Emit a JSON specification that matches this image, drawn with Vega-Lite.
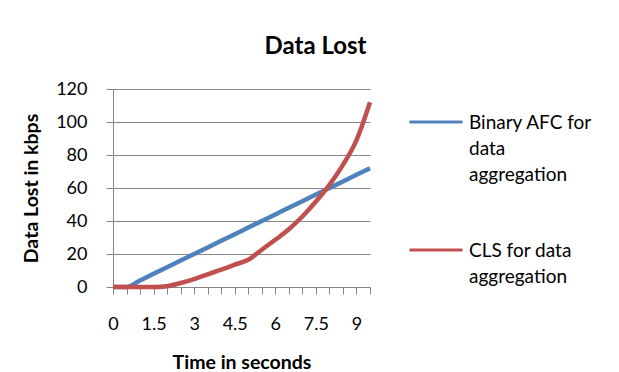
{
  "$schema": "https://vega.github.io/schema/vega-lite/v6.json",
  "width": 257,
  "height": 198,
  "autosize": {"type": "none"},
  "padding": {"left": 113, "top": 89, "right": 249, "bottom": 85},
  "background": "white",
  "title": {
    "text": "Data Lost",
    "font": "Lato",
    "fontSize": 24,
    "fontWeight": "bold",
    "color": "black",
    "anchor": "middle",
    "dx": 74,
    "offset": 21
  },
  "data": {
    "values": [
      {"t": 0, "series": "Binary AFC for data aggregation", "v": 0},
      {"t": 0.5, "series": "Binary AFC for data aggregation", "v": 0},
      {"t": 1, "series": "Binary AFC for data aggregation", "v": 4},
      {"t": 1.5, "series": "Binary AFC for data aggregation", "v": 8},
      {"t": 2, "series": "Binary AFC for data aggregation", "v": 12},
      {"t": 2.5, "series": "Binary AFC for data aggregation", "v": 16},
      {"t": 3, "series": "Binary AFC for data aggregation", "v": 20},
      {"t": 3.5, "series": "Binary AFC for data aggregation", "v": 24},
      {"t": 4, "series": "Binary AFC for data aggregation", "v": 28},
      {"t": 4.5, "series": "Binary AFC for data aggregation", "v": 32},
      {"t": 5, "series": "Binary AFC for data aggregation", "v": 36},
      {"t": 5.5, "series": "Binary AFC for data aggregation", "v": 40},
      {"t": 6, "series": "Binary AFC for data aggregation", "v": 44},
      {"t": 6.5, "series": "Binary AFC for data aggregation", "v": 48},
      {"t": 7, "series": "Binary AFC for data aggregation", "v": 52},
      {"t": 7.5, "series": "Binary AFC for data aggregation", "v": 56},
      {"t": 8, "series": "Binary AFC for data aggregation", "v": 60},
      {"t": 8.5, "series": "Binary AFC for data aggregation", "v": 64},
      {"t": 9, "series": "Binary AFC for data aggregation", "v": 68},
      {"t": 9.5, "series": "Binary AFC for data aggregation", "v": 72},
      {"t": 0, "series": "CLS for data aggregation", "v": 0},
      {"t": 0.5, "series": "CLS for data aggregation", "v": 0},
      {"t": 1, "series": "CLS for data aggregation", "v": 0},
      {"t": 1.5, "series": "CLS for data aggregation", "v": 0},
      {"t": 2, "series": "CLS for data aggregation", "v": 0.5},
      {"t": 2.5, "series": "CLS for data aggregation", "v": 2.4},
      {"t": 3, "series": "CLS for data aggregation", "v": 4.8},
      {"t": 3.5, "series": "CLS for data aggregation", "v": 7.7},
      {"t": 4, "series": "CLS for data aggregation", "v": 10.5},
      {"t": 4.5, "series": "CLS for data aggregation", "v": 13.5},
      {"t": 5, "series": "CLS for data aggregation", "v": 16.5},
      {"t": 5.5, "series": "CLS for data aggregation", "v": 22.6},
      {"t": 6, "series": "CLS for data aggregation", "v": 28.6},
      {"t": 6.5, "series": "CLS for data aggregation", "v": 35},
      {"t": 7, "series": "CLS for data aggregation", "v": 42.7},
      {"t": 7.5, "series": "CLS for data aggregation", "v": 51.8},
      {"t": 8, "series": "CLS for data aggregation", "v": 61.9},
      {"t": 8.5, "series": "CLS for data aggregation", "v": 74},
      {"t": 9, "series": "CLS for data aggregation", "v": 89},
      {"t": 9.5, "series": "CLS for data aggregation", "v": 112}
    ]
  },
  "mark": {"type": "line", "strokeWidth": 4.5, "interpolate": "monotone"},
  "encoding": {
    "x": {
      "field": "t",
      "type": "quantitative",
      "scale": {"domain": [0, 9.5], "nice": false, "zero": false},
      "axis": {
        "values": [0, 0.5, 1, 1.5, 2, 2.5, 3, 3.5, 4, 4.5, 5, 5.5, 6, 6.5, 7, 7.5, 8, 8.5, 9, 9.5],
        "labelExpr": "datum.value % 1.5 == 0 ? '' + datum.value : ''",
        "labelOverlap": false,
        "labelFlush": false,
        "grid": false,
        "tickSize": 7,
        "tickColor": "#868686",
        "domainColor": "#868686",
        "labelFont": "Lato",
        "labelFontSize": 18,
        "labelColor": "black",
        "labelPadding": 21,
        "title": "Time in seconds",
        "titleFont": "Lato",
        "titleFontSize": 19.5,
        "titleFontWeight": "bold",
        "titleColor": "black",
        "titlePadding": 20
      }
    },
    "y": {
      "field": "v",
      "type": "quantitative",
      "scale": {"domain": [0, 120], "nice": false},
      "axis": {
        "values": [0, 20, 40, 60, 80, 100, 120],
        "grid": true,
        "gridColor": "#868686",
        "gridWidth": 1,
        "tickSize": 7,
        "tickColor": "#868686",
        "domainColor": "#868686",
        "labelFont": "Lato",
        "labelFontSize": 18,
        "labelColor": "black",
        "labelPadding": 19,
        "title": "Data Lost in kbps",
        "titleFont": "Lato",
        "titleFontSize": 19.5,
        "titleFontWeight": "bold",
        "titleColor": "black",
        "titlePadding": 14
      }
    },
    "color": {
      "field": "series",
      "type": "nominal",
      "scale": {
        "domain": ["Binary AFC for data aggregation", "CLS for data aggregation"],
        "range": ["#4F81BD", "#C0504D"]
      },
      "legend": {
        "title": null,
        "orient": "none",
        "legendX": 295,
        "legendY": 5,
        "padding": 0,
        "symbolType": "stroke",
        "symbolSize": 2809,
        "symbolStrokeWidth": 3,
        "labelFont": "Lato",
        "labelFontSize": 19,
        "labelColor": "black",
        "labelOffset": 5,
        "labelBaseline": "alphabetic",
        "labelLimit": 300,
        "rowPadding": 37,
        "labelExpr": "datum.label == 'Binary AFC for data aggregation' ? ['Binary AFC for', 'data', 'aggregation'] : ['CLS for data', 'aggregation']",
        "encode": {
          "labels": {"update": {"lineHeight": {"value": 26}, "dy": {"value": 7}}}
        }
      }
    }
  },
  "config": {"view": {"stroke": null}}
}
